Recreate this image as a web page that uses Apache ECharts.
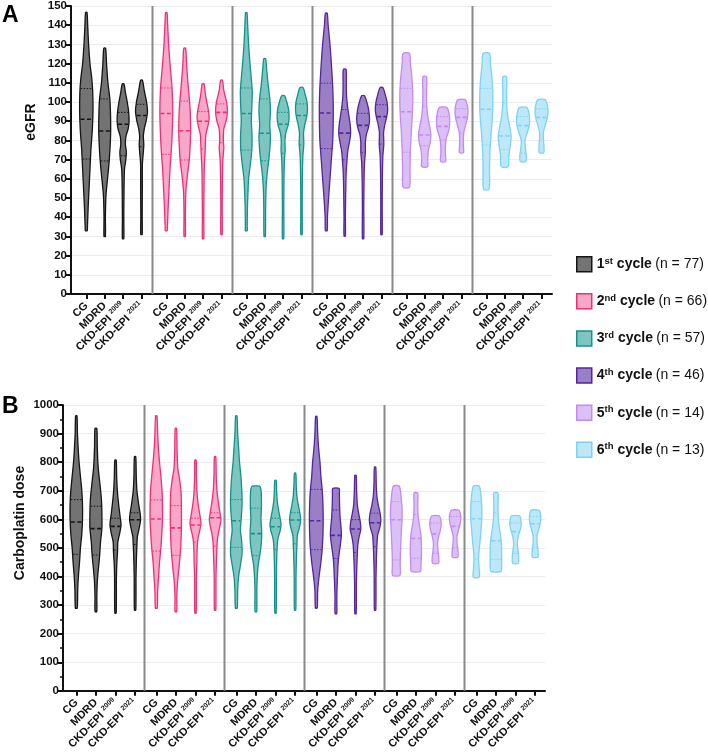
<!DOCTYPE html>
<html><head><meta charset="utf-8">
<script src="https://cdn.jsdelivr.net/npm/echarts@6/dist/echarts.min.js"></script>
<style>html,body{margin:0;padding:0;background:#fff}#c{width:708px;height:752px}</style>
</head><body><div id="c"></div>
<script>
// ---------------- data ----------------
const cycles = ['1st cycle (n = 77)', '2nd cycle (n = 66)', '3rd cycle (n = 57)', '4th cycle (n = 46)', '5th cycle (n = 14)', '6th cycle (n = 13)'];
const methods = ['CG', 'MDRD', 'CKD-EPI 2009', 'CKD-EPI 2021'];
const egfrAxis = [0, 150, 10];      // min, max, step
const doseAxis = [0, 1000, 100];

// [min, Q1, median, Q3, max] per cycle, per method
const egfrStats = [
  [[33,70.3,91,107,146.7],[30,69.3,84.9,101.6,128],[28.8,72,88.4,94.6,109.4],[31,76.7,93,98.8,111.3]],
  [[33,72.7,94,107.3,146.5],[30,69.8,85,100.5,128],[28.8,75.5,90,95,109.4],[31,78.8,94.6,99,111.3]],
  [[33,75,94,107.3,146.5],[30,69.4,83.7,101.6,122.6],[28.8,73.3,88.4,94.6,103.3],[31,77.6,93,99,107.5]],
  [[33,75.7,94.3,109.8,146.3],[30.2,69.9,83.8,96.1,117],[28.8,73.8,87.8,94.1,103.3],[31,78.1,92.4,98.6,107.5]],
  [[55.6,73.8,94.9,107.1,125.3],[66.3,77.2,82.8,97.9,113.2],[69,80.2,87.3,92.4,97.2],[73.6,83.7,92,96.5,101.2]],
  [[54.5,77.6,96.2,107.1,125.3],[66.3,75.3,82.3,99.6,113.2],[69,73.3,87.7,92.4,97.2],[73.6,80.2,92,96.5,101.2]]
];
const doseStats = [
  [[289.5,477.5,590.5,669,962],[277,475,567.5,646,918],[272,492.5,575.5,604,807],[282.5,512,598.6,623,819]],
  [[289.5,489,601,668,962],[277,474,570,648,918],[272,520,580,604,807],[282.5,506,605.5,623,819]],
  [[289.5,502,595,669,962],[277,473,550,639,716],[272,495,574,604,736],[282.5,514.5,597.5,623,762]],
  [[290,494,595,705,960],[270,463,544,633,708],[270,484,566,599,754],[282.6,504,588,621.6,783]],
  [[404,458,598.6,662,717],[417.6,463.7,533,617,692],[446,481,549,587,612.5],[468,500.6,575.5,610,632]],
  [[398,461,602,662,717],[418,460,525,623,692],[446,481,557,587,612.5],[468,500.6,584.8,610,632]]
];

// violin outlines: [value, relative density]
const egfrShapes = [
  [
    [[146.7,1.5],[140,3],[130,5],[120,8],[112,12],[105,14],[95,14.5],[85,13],[75,10],[65,8],[55,6],[45,4],[35,2.5],[33,2]],
    [[128,2],[120,4],[110,7],[102,11],[95,12.5],[85,13],[78,12],[70,10],[62,7],[55,4],[50,2.5],[40,1.5],[30,1.5]],
    [[109.4,2],[105,5],[100,9],[95,12],[90,13],[86,11],[82,6],[78,5],[74,7],[70,6],[65,3],[55,2],[40,1.5],[28.8,1.5]],
    [[111.3,2],[106,6],[100,11],[95,13],[90,10],[86,6],[82,4],[78,5],[74,4],[68,2],[55,1.8],[40,1.5],[31,1.5]]
  ],
  [
    [[146.5,1.5],[140,3],[130,5],[120,8],[112,11],[105,13],[95,14],[85,13],[75,11],[65,8],[55,6],[45,4],[35,2.5],[33,2]],
    [[128,2],[120,4],[110,7],[102,10],[95,12],[85,13],[78,12],[70,10],[62,6],[55,3],[50,2],[40,1.5],[30,1.5]],
    [[109.4,2],[104,5],[100,8],[95,12],[91,13],[87,10],[83,6],[78,5],[72,4],[65,2.5],[55,2],[40,1.5],[28.8,1.5]],
    [[111.3,2],[106,5],[100,11],[95,13],[90,10],[86,5],[80,4],[76,5],[70,3],[60,2],[45,1.5],[31,1.5]]
  ],
  [
    [[146.5,1.5],[140,3],[130,5],[120,8],[112,11],[105,13],[97,12],[90,11],[82,12.5],[75,12],[68,9],[60,5],[52,3.5],[45,2.5],[35,2],[33,2]],
    [[122.6,2],[118,4],[110,7],[102,11],[95,12.5],[88,11],[82,12.5],[75,11],[68,8],[62,5],[55,3],[45,2],[30,1.5]],
    [[103.3,3],[100,8],[96,12],[92,13],[88,11],[84,6],[80,4],[75,4.5],[70,3],[60,2],[45,1.5],[28.8,1.5]],
    [[107.5,3.5],[104,8],[100,12],[96,13],[92,11],[88,7],[84,4.5],[78,5],[72,3],[62,2],[45,1.5],[31,1.5]]
  ],
  [
    [[146.3,2],[140,4],[130,8],[120,11],[110,13.5],[100,15],[90,15],[80,14],[70,11],[60,8],[50,5],[40,2.5],[33,2]],
    [[117,3],[110,3.5],[103,4],[98,6],[93,9],[88,12],[84,13],[80,11],[75,7],[70,5],[62,3],[50,2],[40,1.5],[30.2,1.5]],
    [[103.3,3],[100,8],[96,12],[91,14],[87,12],[83,7],[79,5],[74,5],[68,3],[58,2],[45,1.5],[28.8,1.5]],
    [[107.5,3],[104,8],[100,12],[96,13.5],[92,11],[88,7],[84,4.5],[78,5],[72,3],[62,2],[45,1.5],[31,1.5]]
  ],
  [
    [[125.3,7],[120,9],[113,12],[105,14],[95,13.5],[85,11],[75,9],[65,8],[55.6,7]],
    [[113.2,4],[105,4],[98,4.5],[92,7],[87,11],[83,13.5],[79,12],[75,8],[70,6.5],[66.3,6.5]],
    [[97.2,8],[95,12],[92,14],[88,14],[85,12],[81,7],[77,5],[73,5],[69,5.5]],
    [[101.2,8],[99,12],[96,14],[92,13],[88,9],[84,5],[80,4],[76,4.5],[73.6,4.5]]
  ],
  [
    [[125.3,7],[120,9],[113,12],[105,14],[95,14],[85,11],[75,8],[65,7],[54.5,6]],
    [[113.2,4],[105,4],[98,4.5],[92,7],[87,11],[82,14],[77,12],[72,9],[66.3,7.5]],
    [[97.2,8],[95,12],[92,14],[88,13.5],[84,9],[80,4],[76,5],[72,7],[69,6]],
    [[101.2,8],[99,12],[96,14],[92,13],[88,8],[84,4],[80,4.5],[76,5.5],[73.6,5]]
  ]
];
const doseShapes = [
  [
    [[962,1.5],[900,2.5],[850,4],[800,6],[750,9],[700,12],[650,13.5],[600,13.5],[550,12],[500,9],[450,7],[400,4.5],[350,3],[289.5,2]],
    [[918,2],[850,3],[780,5],[720,9],[670,12],[620,13],[570,13],[520,10],[470,8],[420,5],[380,3],[330,2],[277,1.8]],
    [[807,1.5],[750,2.5],[700,4],[650,7],[610,10],[580,12],[550,9],[520,5],[490,4.5],[450,3],[400,2],[272,1.5]],
    [[819,1.5],[750,2.5],[700,4],[650,8],[620,11],[600,12],[570,9],[540,5],[510,4],[470,3],[400,2],[282.5,1.5]]
  ],
  [
    [[962,1.5],[900,3],[850,4.5],[800,7],[750,10],[700,12.5],[650,13.5],[600,13.5],[550,12],[500,10],[450,7],[400,5],[350,3],[289.5,2]],
    [[918,1.5],[850,2.5],[780,4],[740,8],[700,11],[650,12],[580,12],[520,11],[470,9],[420,6],[380,3.5],[330,2],[277,1.8]],
    [[807,1.5],[750,2],[700,3],[650,6],[610,10],[585,12],[560,9],[530,5],[490,3.5],[450,3],[400,2],[272,1.5]],
    [[819,1.5],[750,2.5],[700,4],[650,8],[620,11],[600,12.5],[580,11],[550,7],[520,4.5],[480,3.5],[400,2],[282.5,1.5]]
  ],
  [
    [[962,1.5],[900,3],[850,5],[800,7],[750,10],[700,12],[650,12.5],[600,10.5],[560,9],[520,12],[480,12.5],[440,9],[400,5],[350,3],[289.5,2]],
    [[716,8],[705,11],[680,12],[640,12],[600,11],[560,12.5],[520,12],[480,9],[440,5],[400,3],[350,2],[277,1.8]],
    [[736,1.5],[700,2.5],[660,4],[630,7],[600,10.5],[580,12],[560,10],[530,5],[500,3.5],[450,2.5],[400,2],[272,1.5]],
    [[762,1.5],[720,2.5],[680,4],[650,7],[620,10.5],[600,12],[575,10],[545,5],[510,4],[470,3],[400,2],[282.5,1.5]]
  ],
  [
    [[960,1.5],[900,3],[850,5],[800,8],[750,10],[700,13],[650,14.5],[600,15],[550,14.5],[500,13],[450,10],[400,6],[350,3],[290,2]],
    [[708,7],[690,7.5],[650,8],[610,9],[575,11],[545,12],[515,10],[480,7],[450,5],[420,4],[380,3],[330,2],[270,1.8]],
    [[754,1.5],[700,2.5],[650,4],[620,7],[590,10.5],[565,11.5],[540,8],[510,5],[480,4],[440,3],[380,2],[270,1.5]],
    [[783,1.5],[720,2.5],[680,4],[650,7],[620,11],[595,12.5],[570,10],[545,5.5],[510,4],[470,3],[400,2],[282.6,1.5]]
  ],
  [
    [[717,6],[700,9],[670,11],[640,12.5],[600,12.5],[560,11],[520,10],[480,9],[440,8.5],[404,8]],
    [[692,4],[650,4],[610,5],[575,8],[545,11],[510,12],[470,12],[440,11],[417.6,10]],
    [[612.5,8],[600,11.5],[585,12.5],[565,11],[540,7],[515,4.5],[490,5.5],[470,7],[446,6.5]],
    [[632,8],[620,11.5],[605,12.5],[585,11],[560,7],[540,4],[515,4.5],[495,6],[468,6]]
  ],
  [
    [[717,6],[700,9],[670,11],[640,12],[600,12],[560,10],[520,8],[490,6],[460,5],[430,6],[398,6.5]],
    [[692,4.5],[650,4.5],[610,5],[575,7],[545,10],[515,12],[480,12.5],[445,12.5],[418,11]],
    [[612.5,9],[600,11.5],[585,12.5],[565,10.5],[540,6],[515,4],[490,5.5],[470,7],[446,6]],
    [[632,8.5],[620,11.5],[605,12.5],[585,11],[560,7],[540,4],[515,4.5],[495,6],[468,6]]
  ]
];

// ---------------- styling / layout ----------------
const fills   = ['#737373', '#f8a7c8', '#7cc6c1', '#9b7fc6', '#dbbff6', '#bde8f9'];
const strokes = ['#141414', '#ee2f78', '#16918a', '#55259a', '#c28cf0', '#7fd2f2'];
const FONT = "'Liberation Sans', Arial, Helvetica, sans-serif";
const GROUP = 80;                 // x units per cycle group
const layoutA = { off: 15.3, sp: 18.4 };
const layoutB = { off: 13.3, sp: 19.6 };
const HALF = 0.46;                // px half-width per density unit

function positions(L) {
  const p = [];
  for (let c = 0; c < cycles.length; c++) for (let m = 0; m < methods.length; m++) p.push(c * GROUP + L.off + m * L.sp);
  return p;
}
const posA = positions(layoutA), posB = positions(layoutB);

function widthAt(sh, v) {
  for (let i = 0; i < sh.length - 1; i++) {
    const a = sh[i], b = sh[i + 1];
    if (v <= a[0] && v >= b[0]) { const t = (a[0] - v) / (a[0] - b[0]); return a[1] + t * (b[1] - a[1]); }
  }
  return sh[sh.length - 1][1];
}

function violinRenderer(stats, shapes) {
  return function (params, api) {
    const c = api.value(2), m = api.value(3);
    const st = stats[c][m], sh = shapes[c][m];
    const cx = api.coord([api.value(0), 0])[0];
    const Y = v => api.coord([0, v])[1];
    const right = sh.map(p => [cx + p[1] * HALF, Y(p[0])]);
    const left = sh.slice().reverse().map(p => [cx - p[1] * HALF, Y(p[0])]);
    const stroke = strokes[c];
    const kids = [{
      type: 'polygon', shape: { points: right.concat(left), smooth: 0.25 },
      style: { fill: fills[c], stroke: stroke, lineWidth: 1.3, lineJoin: 'round' }
    }];
    const line = (v, dash, w) => {
      const hw = widthAt(sh, v) * HALF;
      kids.push({ type: 'line', shape: { x1: cx - hw + 0.6, y1: Y(v), x2: cx + hw - 0.6, y2: Y(v) },
        style: { stroke: stroke, lineWidth: w, lineDash: dash } });
    };
    line(st[2], [4, 2.5], 1.6);
    line(st[1], [1.5, 1.5], 1);
    line(st[3], [1.5, 1.5], 1);
    return { type: 'group', children: kids };
  };
}

function sepRenderer(maxV) {
  return function (params, api) {
    const x = api.coord([api.value(0), 0])[0];
    return { type: 'line', shape: { x1: x, y1: api.coord([0, 0])[1], x2: x, y2: api.coord([0, maxV])[1] },
      style: { stroke: '#8a8a8a', lineWidth: 2 } };
  };
}

function xAxisCfg(idx, pos, max) {
  return {
    type: 'value', gridIndex: idx, min: 0, max: max,
    axisLine: { show: true, onZero: false, lineStyle: { color: '#111', width: 2 } },
    axisTick: { show: true, customValues: pos, length: 5, lineStyle: { color: '#111', width: 2 } },
    axisLabel: {
      show: true, customValues: pos, rotate: 45, margin: 10, color: '#111',
      fontFamily: FONT, fontWeight: 'bold', fontSize: 11,
      formatter: function (v) {
        let k = 0, best = 1e9;
        pos.forEach((p, i) => { if (Math.abs(p - v) < best) { best = Math.abs(p - v); k = i; } });
        const name = methods[k % methods.length];
        const parts = name.split(' ');
        return parts.length > 1 ? '{m|' + parts[0] + ' }{s|' + parts[1] + '}' : '{m|' + name + '}';
      },
      rich: {
        m: { fontFamily: FONT, fontWeight: 'bold', fontSize: 11, color: '#111', lineHeight: 13 },
        s: { fontFamily: FONT, fontSize: 7, color: '#111', lineHeight: 8, verticalAlign: 'top' }
      }
    },
    splitLine: { show: false }
  };
}

function yAxisCfg(idx, ax, minor) {
  return {
    type: 'value', gridIndex: idx, min: ax[0], max: ax[1], interval: ax[2],
    axisLine: { show: true, lineStyle: { color: '#111', width: 2 } },
    axisTick: { show: true, length: 5, lineStyle: { color: '#111', width: 2 } },
    minorTick: { show: minor, splitNumber: 2, length: 3, lineStyle: { color: '#111', width: 1.5 } },
    axisLabel: { color: '#111', fontFamily: FONT, fontWeight: 'bold', fontSize: 11.5, margin: 4,
      formatter: v => String(v) },
    splitLine: { show: true, lineStyle: { color: '#ececec', width: 1 } }
  };
}

const series = [];
[[egfrStats, egfrShapes, posA, 0, egfrAxis], [doseStats, doseShapes, posB, 1, doseAxis]].forEach(([stats, shapes, pos, gi, ax]) => {
  series.push({
    type: 'custom', name: 'sep' + gi, xAxisIndex: gi, yAxisIndex: gi, silent: true, z: 1, clip: false,
    renderItem: sepRenderer(ax[1]),
    data: [1, 2, 3, 4, 5].map(g => [g * GROUP + 1.5, 0]), encode: { x: 0, y: 1 }
  });
  cycles.forEach((name, c) => {
    series.push({
      type: 'custom', name: name, xAxisIndex: gi, yAxisIndex: gi, z: 3, clip: false,
      itemStyle: { color: fills[c], borderColor: strokes[c] },
      renderItem: violinRenderer(stats, shapes),
      data: methods.map((m, k) => [pos[c * methods.length + k], stats[c][k][2], c, k]),
      encode: { x: 0, y: 1 }
    });
  });
});

const chart = echarts.init(document.getElementById('c'), null, { renderer: 'canvas' });
chart.setOption({
  animation: false,
  backgroundColor: '#fff',
  grid: [
    { left: 71, top: 6, width: 481, height: 288 },
    { left: 63, top: 405, width: 482, height: 289 }
  ],
  xAxis: [xAxisCfg(0, posA, 481), xAxisCfg(1, posB, 482)],
  yAxis: [yAxisCfg(0, egfrAxis, false), yAxisCfg(1, doseAxis, true)],
  legend: {
    orient: 'vertical', left: 576, top: 256, padding: 0, itemWidth: 15, itemHeight: 15, itemGap: 20.6,
    icon: 'rect', selectedMode: false,
    data: cycles.map((n, i) => ({ name: n, itemStyle: { color: fills[i], borderColor: strokes[i], borderWidth: 1.5 } })),
    formatter: function (n) {
      const mm = n.match(/^(\d)(\w+) cycle (.*)$/);
      return '{b|' + mm[1] + '}{s|' + mm[2] + '}{b| cycle} {n|' + mm[3] + '}';
    },
    textStyle: {
      fontFamily: FONT, color: '#111',
      rich: {
        b: { fontFamily: FONT, fontWeight: 'bold', fontSize: 14, color: '#111', lineHeight: 16 },
        s: { fontFamily: FONT, fontWeight: 'bold', fontSize: 9.5, color: '#111', lineHeight: 10, verticalAlign: 'top' },
        n: { fontFamily: FONT, fontSize: 14, color: '#111', lineHeight: 16 }
      }
    }
  },
  graphic: [
    { type: 'text', left: 2, top: 4, style: { text: 'A', font: 'bold 23px ' + FONT, fill: '#000' } },
    { type: 'text', left: 2, top: 395, style: { text: 'B', font: 'bold 23px ' + FONT, fill: '#000' } },
    { type: 'text', x: 31, y: 122, rotation: Math.PI / 2, style: { text: 'eGFR', font: 'bold 14px ' + FONT, fill: '#111', align: 'center', verticalAlign: 'middle' } },
    { type: 'text', x: 20, y: 523, rotation: Math.PI / 2, style: { text: 'Carboplatin dose', font: 'bold 14px ' + FONT, fill: '#111', align: 'center', verticalAlign: 'middle' } }
  ],
  series: series
});
</script>
</body></html>
